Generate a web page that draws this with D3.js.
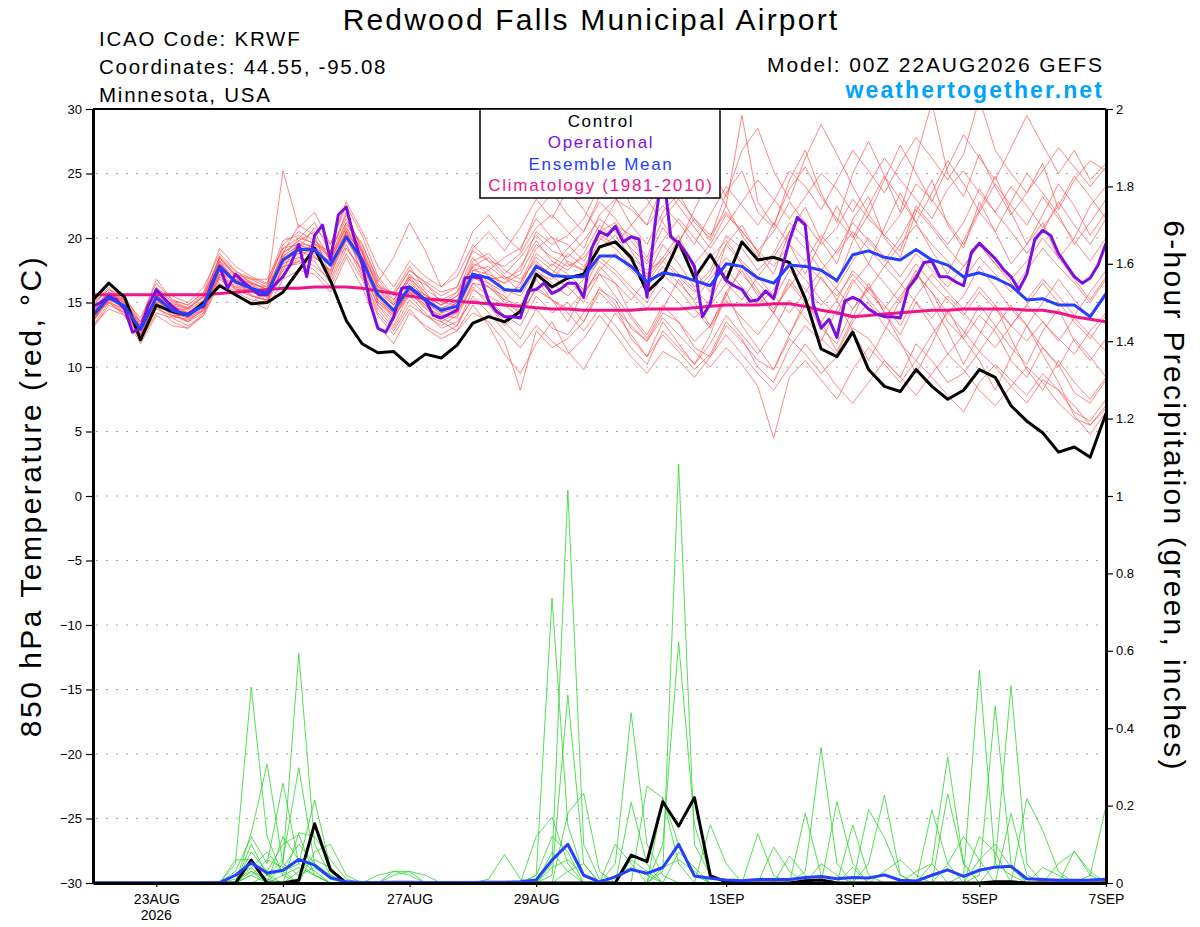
<!DOCTYPE html>
<html>
<head>
<meta charset="utf-8">
<script src="https://cdn.jsdelivr.net/npm/d3@7"></script>
<style>
  body { margin: 0; background: #ffffff; }
  text { font-family: "Liberation Sans", Arial, Helvetica, sans-serif; }
</style>
</head>
<body>
<div id="chart"></div>
<script>
// ---- data ----
const startTime = Date.UTC(2026, 7, 22, 0);
const endTime = Date.UTC(2026, 8, 7, 0);

const xTickDates = [Date.UTC(2026,7,23), Date.UTC(2026,7,25), Date.UTC(2026,7,27), Date.UTC(2026,7,29),
                    Date.UTC(2026,8,1), Date.UTC(2026,8,3), Date.UTC(2026,8,5), Date.UTC(2026,8,7)];
const xTickLabels = ["23AUG", "25AUG", "27AUG", "29AUG", "1SEP", "3SEP", "5SEP", "7SEP"];
const leftTicks = [-30, -25, -20, -15, -10, -5, 0, 5, 10, 15, 20, 25, 30];
const rightTicks = [0, 0.2, 0.4, 0.6, 0.8, 1, 1.2, 1.4, 1.6, 1.8, 2];
const rightTickLabels = ["0", "0.2", "0.4", "0.6", "0.8", "1", "1.2", "1.4", "1.6", "1.8", "2"];

// 6-hourly, 65 steps
const controlTemp = [15.2,16.5,15.4,12.1,14.8,14.3,14.0,15.0,16.3,15.6,
  14.9,15.0,15.8,17.5,19.2,16.7,13.6,11.8,11.1,11.2,
  10.1,11.0,10.7,11.7,13.4,13.9,13.5,14.3,17.2,16.2,
  16.9,17.2,19.3,19.7,18.5,15.8,17.0,19.7,16.9,18.7,
  16.7,19.7,18.3,18.5,18.1,15.3,11.4,10.8,12.7,9.8,
  8.5,8.1,9.8,8.5,7.5,8.2,9.8,9.2,7.0,5.8,
  4.9,3.4,3.8,3.0,6.4];

const meanTemp = [14.0,15.4,14.7,12.9,15.4,14.4,14.0,14.8,17.8,16.6,
  16.1,15.7,18.3,19.1,19.1,17.9,20.1,18.3,15.6,14.4,
  16.2,15.2,14.4,14.7,17.2,16.9,16.0,15.9,17.8,17.1,
  17.0,17.0,18.6,18.6,17.8,16.6,17.3,17.1,16.7,16.3,
  18.0,17.8,16.9,16.5,17.9,17.8,17.5,16.7,18.7,19.0,
  18.5,18.3,19.1,18.3,17.9,17.0,17.3,16.9,16.3,15.2,
  15.3,14.8,14.8,13.9,15.7];

const climoTemp = [15.6,15.6,15.6,15.6,15.6,15.6,15.6,15.6,15.7,15.8,
  15.9,16.0,16.1,16.1,16.2,16.2,16.2,16.1,15.9,15.7,
  15.5,15.3,15.2,15.1,15.0,14.9,14.8,14.7,14.6,14.5,
  14.5,14.4,14.4,14.4,14.4,14.5,14.5,14.5,14.6,14.7,
  14.8,14.8,14.8,14.9,14.9,14.7,14.4,14.2,13.9,14.0,
  14.1,14.2,14.3,14.4,14.4,14.5,14.5,14.5,14.5,14.4,
  14.4,14.2,13.9,13.7,13.5];

// operational run is 3-hourly, 129 steps
const operTemp = [14.7,15.0,15.5,15.2,14.5,12.7,13.0,14.8,16.0,15.3,
  14.7,14.2,14.1,14.5,14.7,16.5,17.8,16.1,17.2,16.6,
  16.1,15.6,15.6,16.4,17.0,18.0,19.5,17.0,20.2,21.0,
  18.3,21.8,22.4,20.0,18.0,15.0,13.0,12.7,13.9,16.1,
  16.2,15.7,15.2,14.0,13.8,14.1,14.4,16.9,17.0,16.9,
  15.1,14.3,13.9,13.9,13.8,15.9,16.0,16.5,15.7,16.0,
  16.5,16.5,15.4,19.2,20.5,20.2,20.9,19.7,20.1,19.9,
  15.4,21.0,25.5,20.1,19.6,18.8,17.8,13.9,14.9,17.8,
  16.7,16.3,16.0,15.1,15.2,15.9,15.3,17.5,19.8,21.6,
  21.0,14.9,13.0,13.7,12.3,15.1,15.4,15.1,14.5,14.1,
  13.9,13.9,13.8,16.1,16.9,18.1,18.2,17.0,17.0,16.6,
  16.3,18.9,19.6,19.0,18.4,17.6,17.0,16.0,17.2,19.9,
  20.6,20.2,18.8,17.9,17.0,16.5,16.9,17.9,19.6];

const tempMembers = [
  [13.2,15.0,14.2,12.4,15.0,14.0,13.5,14.2,17.0,16.0,15.5,15.2,17.5,19.8,20.5,18.2,21.0,19.5,16.8,15.2,17.0,16.4,15.5,16.2,19.0,18.2,17.0,16.5,19.2,20.1,18.0,17.5,20.5,21.2,19.0,17.2,18.5,20.2,17.5,15.8,19.5,21.0,18.8,17.2,20.5,22.4,19.8,18.0,21.5,23.2,20.0,18.5,22.0,24.5,21.0,19.2,22.8,20.5,18.0,19.5,21.2,18.4,20.0,22.5,24.0],
  [14.5,15.8,15.0,13.2,16.2,15.0,14.5,15.5,18.5,17.2,16.8,16.2,19.5,20.5,19.8,18.8,22.0,19.0,15.0,14.0,15.5,14.2,13.0,13.5,15.2,14.8,13.5,12.2,14.5,13.0,12.5,14.2,16.0,15.2,13.0,12.0,14.2,13.5,11.5,10.8,13.2,12.0,10.5,9.8,12.2,11.0,9.5,10.8,13.0,12.2,10.5,9.2,11.8,10.5,8.8,9.5,11.2,10.0,8.5,7.2,9.0,8.2,6.5,5.8,7.5],
  [13.8,15.5,14.5,12.0,14.2,13.8,13.2,14.0,16.5,15.5,15.0,15.8,18.8,21.0,20.2,17.0,20.5,17.2,14.2,12.8,14.8,14.0,13.2,14.0,17.5,17.8,16.8,17.5,20.5,19.5,20.2,21.5,24.0,23.2,21.0,19.5,22.0,23.5,21.2,20.0,23.5,25.2,22.0,20.8,24.5,26.8,23.5,21.2,25.0,27.5,24.8,22.0,26.2,30.5,25.0,23.2,26.5,24.0,21.8,23.5,25.8,22.2,24.5,26.0,25.2],
  [14.2,15.2,14.8,13.0,15.5,14.8,14.2,15.2,18.0,16.8,16.5,15.0,17.2,18.5,18.2,16.5,19.2,17.5,14.8,13.2,15.8,14.5,13.8,13.2,16.0,15.2,14.0,13.2,15.5,14.2,15.0,13.5,16.2,14.8,12.2,10.8,12.5,11.2,9.8,11.0,13.5,12.2,10.0,8.8,11.5,13.2,12.0,14.5,16.8,15.2,13.8,15.5,17.2,15.8,13.5,12.2,14.0,12.8,10.5,9.2,11.5,10.2,8.0,7.2,9.0],
  [13.5,15.6,15.2,13.5,16.8,15.2,14.8,15.8,19.2,17.8,17.0,16.5,19.8,20.2,19.5,19.0,21.5,18.8,16.2,15.8,17.8,16.0,15.2,15.8,18.5,17.0,16.5,17.8,19.8,18.2,17.5,18.8,21.0,19.8,18.2,17.0,19.5,18.0,16.2,17.5,20.2,19.2,17.5,18.8,21.2,20.0,18.2,16.5,19.8,21.8,20.2,19.0,22.5,21.0,19.5,21.2,23.8,22.0,20.5,18.8,20.5,22.8,21.0,19.5,21.5],
  [14.8,16.2,14.5,12.5,15.2,14.2,13.8,14.5,17.2,16.2,15.8,15.5,18.0,18.8,19.5,18.5,20.8,18.5,15.5,14.5,16.5,15.5,14.8,15.5,18.2,18.8,17.5,16.8,18.2,17.0,16.2,15.0,17.2,16.5,14.0,12.5,14.8,13.5,12.0,13.2,15.8,17.5,15.5,14.2,16.8,15.2,13.0,11.8,14.5,16.2,14.2,12.5,15.0,13.2,11.0,12.5,14.8,13.2,11.5,10.2,12.8,14.5,12.0,10.5,12.2],
  [14.0,15.0,14.0,12.2,15.8,14.5,14.2,15.0,18.2,16.5,16.0,16.0,18.5,19.2,20.8,19.5,22.5,20.2,17.0,15.5,17.5,16.5,15.0,14.8,17.8,16.5,15.8,16.2,18.8,17.8,19.2,20.5,22.8,21.5,19.8,18.2,20.8,19.2,18.0,19.5,21.8,20.5,19.0,20.5,22.8,21.2,19.5,20.8,23.0,21.5,20.2,21.8,24.2,23.0,21.2,19.5,22.0,24.2,22.5,21.0,23.2,21.5,19.8,18.2,20.0],
  [13.0,14.8,14.2,12.8,14.8,13.5,13.0,14.0,16.8,15.8,15.2,15.0,17.8,18.0,18.5,17.5,20.0,17.8,15.2,14.2,16.0,14.8,13.5,12.8,14.2,13.5,12.0,8.2,12.8,11.5,12.2,13.5,15.8,14.5,13.2,12.0,13.8,12.5,11.2,10.0,11.5,10.2,8.5,4.5,9.2,10.5,9.0,7.5,9.8,11.5,10.2,8.8,10.5,9.2,7.8,6.5,8.8,10.2,9.0,7.8,9.5,8.2,7.0,5.5,6.8],
  [15.0,16.0,15.5,13.5,16.0,15.5,15.0,16.2,18.8,17.5,16.5,16.0,18.2,19.5,19.0,17.2,19.8,18.0,16.0,14.8,16.8,15.8,14.2,15.0,17.0,16.2,15.2,14.8,17.2,16.8,18.2,17.5,19.8,21.0,20.2,18.5,21.5,23.0,21.5,19.8,22.5,29.5,22.8,21.0,23.8,25.5,23.2,21.5,20.0,22.5,24.8,23.0,21.2,23.5,26.0,24.2,22.0,20.5,22.8,25.0,23.5,21.8,19.5,21.2,23.0],
  [13.5,15.2,14.8,12.2,14.5,14.0,14.0,14.8,17.5,16.2,16.2,15.5,18.5,20.0,21.2,18.8,21.8,19.2,16.5,14.8,16.2,15.0,14.5,15.2,18.0,17.5,16.0,15.5,17.5,16.5,15.5,16.8,18.2,17.2,15.8,14.5,16.2,15.0,13.8,15.2,17.5,16.2,14.8,16.0,18.2,16.8,15.2,14.0,16.5,18.0,16.5,15.0,17.2,15.8,14.2,15.5,17.8,16.2,14.5,13.2,15.0,16.8,15.2,13.8,15.5],
  [14.5,15.5,15.0,13.0,16.0,14.8,14.0,15.0,18.5,17.0,15.5,15.2,18.8,19.8,19.2,18.0,20.5,18.2,15.8,14.8,17.2,15.8,14.2,14.5,16.8,17.5,18.5,19.2,21.5,20.0,19.5,18.2,20.2,19.5,21.0,22.5,24.2,22.5,20.8,19.2,21.0,22.8,24.5,23.0,21.5,23.2,25.0,23.8,22.0,24.2,26.2,24.5,23.0,21.5,23.8,25.2,23.5,22.0,24.0,22.5,20.8,22.5,24.8,23.2,21.5],
  [13.8,15.0,14.5,12.5,15.2,14.2,13.5,14.5,17.2,16.0,16.0,15.8,18.0,18.5,17.8,16.8,19.5,17.0,14.5,13.0,15.2,14.0,13.5,14.2,16.5,15.5,14.8,13.8,16.2,15.2,14.2,12.8,14.5,13.2,11.5,10.2,12.8,11.5,10.2,11.8,14.0,12.5,11.0,12.8,15.2,13.8,12.2,11.0,13.5,15.0,13.2,11.8,10.5,12.5,14.2,12.8,11.2,13.0,14.8,13.2,11.5,10.0,12.2,10.8,9.2],
  [14.2,15.8,15.2,13.8,16.5,15.2,14.8,15.8,18.2,17.2,16.8,16.8,19.2,19.5,18.8,18.2,20.8,19.0,16.2,15.2,17.0,15.5,14.8,15.8,17.8,18.5,17.2,18.5,20.2,19.0,18.5,19.8,21.5,20.5,19.2,18.0,19.8,21.5,20.0,18.5,19.8,18.2,17.0,18.5,20.5,19.2,17.5,19.0,21.2,19.8,18.2,20.0,22.2,20.8,19.2,17.8,19.5,18.0,16.8,18.2,20.0,18.5,16.8,15.2,17.0],
  [13.2,14.5,14.0,11.8,14.0,13.2,13.0,14.2,17.0,15.5,15.0,14.5,16.8,17.5,17.2,15.8,18.5,16.2,13.2,11.8,14.2,13.2,12.5,13.2,15.5,14.2,12.8,11.5,13.2,12.0,11.0,12.2,14.0,12.5,10.8,9.5,11.2,10.5,9.2,10.8,12.5,11.0,9.5,8.2,10.0,11.8,10.2,8.5,7.2,8.8,10.5,9.2,7.8,9.5,11.0,9.8,8.2,7.0,8.5,10.0,8.8,7.2,6.0,5.5,7.0],
  [14.8,16.0,15.2,13.2,15.5,14.8,14.5,15.5,18.0,17.0,16.5,16.0,25.2,20.8,22.0,19.5,22.8,20.5,17.8,16.2,18.2,17.0,16.2,17.0,19.5,18.2,17.8,18.8,20.8,21.8,20.5,19.2,21.8,23.0,22.2,21.0,22.5,21.2,19.5,21.8,24.0,22.5,21.0,22.8,25.2,24.0,22.2,24.5,26.8,25.2,23.5,25.8,27.8,26.2,24.5,26.5,30.8,26.8,25.0,23.5,25.2,27.0,25.5,24.0,25.5],
  [13.5,15.4,14.6,12.8,15.6,14.5,14.0,14.8,17.8,16.8,16.2,15.8,18.2,19.0,18.5,17.5,19.8,18.5,15.5,14.2,16.0,15.2,14.0,13.8,16.5,16.2,15.5,14.2,16.8,18.0,17.2,16.0,18.5,17.5,16.2,15.0,17.2,16.0,14.5,13.0,15.2,13.8,12.5,14.2,16.5,15.0,13.5,15.2,17.5,16.2,14.8,13.2,15.5,17.2,15.8,14.5,16.2,14.8,13.2,14.8,16.5,15.0,13.5,12.2,14.0],
  [14.0,15.2,14.8,13.5,15.8,14.6,14.2,15.0,17.5,16.8,16.0,15.5,17.5,18.2,19.8,18.5,21.2,19.0,15.0,13.8,15.8,14.8,13.8,14.5,17.2,16.8,17.0,15.8,18.0,17.2,18.8,17.8,19.2,20.2,18.5,17.5,18.2,19.8,21.5,20.2,22.0,20.5,19.0,17.8,19.5,18.2,20.2,18.8,20.5,19.2,17.8,19.5,21.0,19.5,18.2,16.8,18.5,17.2,15.8,17.5,19.2,17.8,16.5,15.0,16.8],
  [14.2,15.6,14.4,12.6,15.0,14.2,13.8,14.6,17.6,16.4,15.8,15.4,18.2,19.2,19.0,17.8,20.2,18.0,15.2,14.0,16.0,15.0,14.2,15.0,17.0,16.5,15.2,16.5,18.5,17.5,16.8,15.5,17.8,16.5,15.2,16.8,18.5,17.2,16.0,14.8,16.5,15.2,17.0,15.5,14.2,15.8,17.5,16.0,14.5,16.0,17.8,16.5,15.0,13.8,15.5,14.2,12.8,11.5,13.2,14.8,13.5,12.0,13.8,12.5,11.2],
  [14.6,15.8,14.9,13.0,15.2,14.0,13.6,14.4,17.4,16.6,16.4,16.2,18.6,19.4,18.6,17.4,20.6,18.6,16.0,15.0,16.8,15.2,14.6,14.8,17.5,17.2,16.5,17.2,19.5,18.5,17.8,18.5,20.0,19.2,17.8,16.5,18.2,17.0,15.8,17.2,19.5,18.0,16.5,15.2,17.5,16.0,14.8,16.2,18.2,20.0,18.5,17.0,18.8,17.5,16.2,17.8,19.5,18.0,16.5,15.2,16.8,15.5,14.0,15.8,17.5],
  [13.6,15.4,14.4,12.6,15.4,14.6,14.4,15.2,18.2,16.6,15.8,15.6,18.4,18.8,19.0,18.2,19.2,17.6,14.8,13.6,16.2,15.6,14.8,15.5,17.0,16.2,15.0,14.2,16.0,15.2,14.5,15.8,17.5,18.8,17.5,16.2,17.8,16.5,15.2,16.8,18.5,17.2,15.8,14.5,16.2,18.0,16.8,15.5,17.2,15.8,14.5,16.2,18.0,16.5,15.2,14.0,15.8,14.5,13.2,12.0,13.5,12.2,11.0,12.8,14.2],
  [14.4,15.2,14.6,13.1,15.6,14.9,14.6,15.4,18.6,17.4,16.9,16.4,19.2,20.0,19.6,18.6,21.2,19.6,16.6,18.5,21.2,19.0,16.2,17.5,20.5,21.8,20.2,19.0,22.0,23.5,21.8,20.5,23.2,24.8,22.5,21.0,24.2,26.5,28.8,25.5,23.2,26.8,28.5,25.2,23.0,26.2,28.8,26.5,24.0,21.8,24.5,27.2,25.0,22.8,25.5,28.0,26.2,24.5,27.0,29.5,27.2,25.0,26.8,24.5,25.8],
  [13.9,15.1,14.3,12.3,14.6,13.9,13.7,14.4,17.2,16.1,15.6,15.1,17.8,18.2,17.5,16.2,18.8,16.8,14.0,12.5,14.5,13.0,12.2,12.8,14.8,13.2,11.0,9.5,11.8,13.5,11.2,9.8,12.0,14.2,12.5,10.8,13.5,11.8,10.2,12.5,15.8,13.2,11.5,9.8,12.5,15.2,13.5,11.2,13.8,16.5,14.2,12.0,9.5,11.8,14.5,12.2,10.5,8.2,10.8,13.2,11.0,8.8,6.2,4.8,6.5],
  [14.3,15.7,15.1,13.3,16.0,15.1,14.6,15.6,18.4,17.1,16.6,16.0,18.9,19.6,19.3,18.4,20.4,18.9,16.4,15.6,17.5,16.6,15.8,16.2,19.2,20.5,19.0,20.8,23.0,21.5,23.8,22.2,20.5,22.8,25.2,23.0,21.2,19.5,22.2,24.8,22.5,20.2,18.5,21.2,19.5,17.2,19.8,22.5,20.2,18.0,20.8,23.5,21.2,19.0,17.2,19.8,22.2,24.8,22.0,19.5,21.8,24.2,22.5,20.2,22.0],
  [13.7,15.3,14.9,12.9,15.3,14.3,14.1,14.9,17.9,16.7,16.3,15.9,18.1,19.1,19.4,18.0,20.3,18.1,15.4,14.1,15.9,14.6,14.0,14.2,16.2,14.8,13.2,14.5,16.8,15.2,13.5,15.8,17.2,15.5,13.8,12.2,14.5,16.8,15.0,13.2,15.5,17.8,16.0,14.2,12.5,14.8,17.0,15.2,12.8,10.5,12.8,15.2,17.5,15.0,12.8,10.2,12.5,14.8,12.2,9.8,8.2,10.5,8.8,7.5,9.2]
];

const controlPrecip = [0,0,0,0,0,0,0,0,0,0,
  0.059,0,0,0.007,0.153,0.034,0,0,0,0,
  0,0,0,0,0,0,0,0,0,0,
  0,0,0,0,0.072,0.055,0.21,0.147,0.221,0.019,
  0.003,0,0,0,0,0.006,0.008,0,0,0,
  0,0,0,0,0,0,0,0.003,0.003,0,
  0,0,0,0,0];

const meanPrecip = [0,0,0,0,0,0,0,0,0.001,0.02,
  0.052,0.026,0.033,0.061,0.046,0.014,0.003,0.001,0.001,0.002,
  0.002,0.001,0.001,0.001,0.001,0.002,0.002,0.003,0.008,0.059,
  0.10,0.02,0.003,0.016,0.035,0.025,0.04,0.10,0.018,0.012,
  0.008,0.006,0.009,0.009,0.009,0.014,0.017,0.011,0.014,0.013,
  0.021,0.007,0.005,0.02,0.034,0.017,0.033,0.041,0.043,0.011,
  0.009,0.007,0.007,0.008,0.01];

const precipMembers = [
  [0,0,0,0,0,0,0,0,0,0.05, 0.506,0.12,0.02,0,0,0,0,0,0,0, 0,0,0,0,0,0,0,0,0.02,0.736, 0.15,0.02,0,0,0,0,0,0,0,0, 0,0,0,0,0,0.03,0.35,0.05,0,0, 0,0,0,0,0,0,0.02,0.457,0.05,0, 0,0,0,0,0],
  [0,0,0,0,0,0,0,0,0,0, 0.13,0.307,0.05,0.593,0.10,0.02,0,0,0,0, 0,0,0,0,0,0,0,0,0,0.05, 1.015,0.10,0.01,0,0,0,0,0,0,0, 0,0,0,0,0,0,0,0,0,0, 0,0,0,0.05,0.326,0.05,0,0,0,0, 0,0,0,0,0],
  [0,0,0,0,0,0,0,0,0,0.03, 0.12,0.05,0.258,0.05,0.215,0.04,0,0,0,0, 0,0,0,0,0,0,0,0,0,0, 0,0,0,0.05,0.44,0.10,0.02,0,0,0, 0,0,0,0,0,0,0,0,0,0.05, 0.227,0.02,0,0,0,0,0,0,0,0, 0,0,0,0.02,0.198],
  [0,0,0,0,0,0,0,0,0,0, 0.10,0.02,0.06,0.298,0.05,0.01,0,0,0,0, 0,0,0,0,0,0,0,0,0,0.02, 0.486,0.05,0,0,0,0,0.03,1.083,0.10,0.02, 0,0,0,0,0,0,0,0,0,0, 0,0,0,0,0,0.02,0.55,0.05,0.02,0, 0,0,0,0,0],
  [0,0,0,0,0,0,0,0,0,0, 0.08,0.03,0.10,0.125,0.02,0,0,0,0,0.02, 0.03,0.02,0,0,0,0,0,0,0,0, 0,0,0,0,0,0,0.10,0.622,0.15,0.02, 0,0,0,0,0,0,0,0,0,0, 0,0,0,0,0,0,0,0.05,0.51,0.05, 0,0,0,0,0],
  [0,0,0,0,0,0,0,0,0,0.06, 0.06,0.02,0,0.13,0.12,0.06,0.01,0,0,0, 0,0,0,0,0,0,0,0,0.12,0.17, 0.05,0,0,0,0.208,0.05,0,0,0,0, 0,0,0,0.093,0.03,0,0,0.21,0.05,0, 0,0,0,0,0,0,0,0,0,0.218, 0.136,0.03,0,0,0],
  [0,0,0,0,0,0,0,0,0,0, 0.04,0.08,0.03,0,0.08,0.10,0.02,0,0,0, 0,0,0,0,0,0.01,0.074,0.01,0,0, 0.18,0.232,0.03,0,0,0,0,0,0,0, 0,0,0.127,0.02,0,0,0,0,0.15,0.02, 0,0,0,0,0.23,0.05,0,0,0,0, 0,0,0.083,0.02,0],
  [0,0,0,0,0,0,0,0,0,0.02, 0.04,0,0.12,0.06,0.03,0,0,0,0,0, 0,0,0,0,0,0,0,0,0,0, 0,0,0,0,0,0.25,0.22,0.10,0.02,0, 0,0,0,0,0,0.18,0.02,0,0,0, 0,0,0,0.188,0.05,0,0,0,0.18,0.02, 0,0,0,0,0],
  [0,0,0,0,0,0,0,0,0,0, 0.02,0.06,0.04,0.10,0.05,0.02,0,0,0,0, 0,0,0,0,0,0,0,0,0.02,0.12, 0.08,0,0,0,0,0,0,0,0,0.15, 0.05,0,0,0,0.07,0.02,0,0,0,0.19, 0.117,0.02,0,0,0,0,0,0,0,0, 0,0,0,0,0],
  [0,0,0,0,0,0,0,0,0,0, 0.03,0,0.05,0.02,0.04,0.01,0,0,0.02,0.03, 0.02,0,0,0,0,0,0,0,0,0, 0,0,0,0.10,0.05,0,0.22,0.05,0,0, 0,0,0,0,0,0,0,0,0,0, 0,0,0.03,0.05,0,0,0.12,0.08,0,0, 0,0,0,0,0],
  [0,0,0,0,0,0,0,0,0,0, 0,0.02,0.03,0.05,0.02,0,0,0,0,0, 0,0,0,0,0,0,0,0,0,0.04, 0.06,0.02,0,0,0.06,0.03,0,0,0,0, 0,0,0,0,0,0,0.05,0.02,0,0, 0,0,0,0,0,0,0,0,0,0, 0,0.05,0.08,0.03,0],
  [0,0,0,0,0,0,0,0,0,0, 0.02,0,0,0.03,0.06,0.04,0,0,0,0, 0,0,0,0,0,0,0,0,0,0, 0.03,0.05,0,0,0,0,0,0.08,0.04,0, 0,0,0,0,0,0,0,0,0.04,0, 0,0,0,0,0,0,0.06,0.10,0.04,0, 0,0,0,0,0],
  [0,0,0,0,0,0,0,0,0,0.01, 0.03,0.01,0,0,0,0,0,0,0,0.03, 0.03,0,0,0,0,0,0,0,0,0, 0,0,0,0.02,0.04,0.02,0,0,0,0, 0,0,0,0,0,0,0,0,0,0, 0.03,0.06,0.02,0,0,0,0,0,0,0, 0.04,0.02,0,0,0],
  [0,0,0,0,0,0,0,0,0,0, 0,0,0.02,0.04,0.02,0,0,0,0,0, 0,0,0,0,0,0,0,0,0,0.08, 0.03,0,0,0,0,0,0.04,0.06,0.03,0, 0,0,0,0,0,0,0,0,0,0, 0,0,0,0,0.05,0.12,0.06,0,0,0, 0,0,0,0,0]
];

// ---- layout ----
const W = 1200, H = 927;
const plot = { left: 93, right: 1106, top: 109, bottom: 883 };
const HOUR = 3600 * 1000;

const svg = d3.select("#chart").append("svg")
  .attr("width", W)
  .attr("height", H)
  .attr("viewBox", `0 0 ${W} ${H}`);

svg.append("rect").attr("width", W).attr("height", H).attr("fill", "#ffffff");

const x = d3.scaleUtc().domain([startTime, endTime]).range([plot.left, plot.right]);
const yT = d3.scaleLinear().domain([-30, 30]).range([plot.bottom, plot.top]);
const yP = d3.scaleLinear().domain([0, 2]).range([plot.bottom, plot.top]);

const stepTimes = (n, hours) => d3.range(n).map(i => new Date(startTime + i * hours * HOUR));
const times6 = stepTimes(controlTemp.length, 6);
const times3 = stepTimes(operTemp.length, 3);

const lineOn = (times, y) => d3.line().x((d, i) => x(times[i])).y(d => y(d));

svg.append("defs").append("clipPath").attr("id", "plotClip")
  .append("rect")
  .attr("x", plot.left).attr("y", plot.top)
  .attr("width", plot.right - plot.left).attr("height", plot.bottom - plot.top);

// dotted grid on the temperature ticks
svg.append("g")
  .selectAll("line")
  .data(leftTicks.filter(v => v > -30 && v < 30))
  .enter()
  .append("line")
  .attr("x1", plot.left + 3)
  .attr("x2", plot.right)
  .attr("y1", d => yT(d))
  .attr("y2", d => yT(d))
  .attr("stroke", "#a8a8a8")
  .attr("stroke-width", 1.2)
  .attr("stroke-dasharray", "2,8");

const marks = svg.append("g").attr("clip-path", "url(#plotClip)");

// ensemble members
marks.append("g")
  .selectAll("path")
  .data(tempMembers)
  .enter()
  .append("path")
  .attr("d", lineOn(times6, yT))
  .attr("fill", "none")
  .attr("stroke", "#ff4d4d")
  .attr("stroke-opacity", 0.85)
  .attr("stroke-width", 0.8);

marks.append("g")
  .selectAll("path")
  .data(precipMembers)
  .enter()
  .append("path")
  .attr("d", lineOn(times6, yP))
  .attr("fill", "none")
  .attr("stroke", "#2ad62a")
  .attr("stroke-width", 0.8);

function bold(data, times, y, color) {
  marks.append("path")
    .datum(data)
    .attr("d", lineOn(times, y))
    .attr("fill", "none")
    .attr("stroke", color)
    .attr("stroke-width", 3)
    .attr("stroke-linejoin", "round");
}

bold(climoTemp, times6, yT, "#f0148c");
bold(controlTemp, times6, yT, "#000000");
bold(operTemp, times3, yT, "#7e0ee0");
bold(meanTemp, times6, yT, "#2440ff");
bold(controlPrecip, times6, yP, "#000000");
bold(meanPrecip, times6, yP, "#2440ff");

// ---- axes ----
const tickFont = "13px";

svg.append("g")
  .attr("transform", `translate(${plot.left},0)`)
  .call(d3.axisLeft(yT).tickValues(leftTicks).tickSize(7).tickSizeOuter(0).tickPadding(4))
  .call(g => g.selectAll("text").attr("fill", "#000").style("font-size", tickFont))
  .call(g => g.selectAll("line").attr("stroke", "#000").attr("stroke-width", 1.2))
  .call(g => g.select(".domain").attr("stroke", "#000").attr("stroke-width", 3));

svg.append("g")
  .attr("transform", `translate(${plot.right},0)`)
  .call(d3.axisRight(yP).tickValues(rightTicks).tickFormat((d, i) => rightTickLabels[i])
    .tickSize(7).tickSizeOuter(0).tickPadding(3))
  .call(g => g.selectAll("text").attr("fill", "#000").style("font-size", tickFont))
  .call(g => g.selectAll("line").attr("stroke", "#000").attr("stroke-width", 1.2))
  .call(g => g.select(".domain").attr("stroke", "#000").attr("stroke-width", 3));

svg.append("g")
  .attr("transform", `translate(0,${plot.bottom})`)
  .call(d3.axisBottom(x).tickValues(xTickDates.map(d => new Date(d)))
    .tickFormat((d, i) => xTickLabels[i]).tickSize(4).tickSizeOuter(0).tickPadding(7))
  .call(g => g.selectAll("text").attr("fill", "#000").style("font-size", "14px"))
  .call(g => g.selectAll("line").attr("stroke", "#000").attr("stroke-width", 1.2))
  .call(g => g.select(".domain").attr("stroke", "#000").attr("stroke-width", 3));

svg.append("text")
  .attr("x", x(new Date(xTickDates[0])))
  .attr("y", 920)
  .attr("text-anchor", "middle")
  .style("font-size", "14px")
  .text("2026");

svg.append("line")
  .attr("x1", plot.left).attr("x2", plot.right)
  .attr("y1", plot.top).attr("y2", plot.top)
  .attr("stroke", "#000").attr("stroke-width", 2);

// ---- legend ----
const legendItems = [
  { label: "Control", color: "#000000" },
  { label: "Operational", color: "#7e0ee0" },
  { label: "Ensemble Mean", color: "#2440ff" },
  { label: "Climatology (1981-2010)", color: "#f0148c" }
];

svg.append("rect")
  .attr("x", 480).attr("y", plot.top)
  .attr("width", 240).attr("height", 89)
  .attr("fill", "#ffffff")
  .attr("stroke", "#000").attr("stroke-width", 1.5);

svg.append("g")
  .selectAll("text")
  .data(legendItems)
  .enter()
  .append("text")
  .attr("x", 601)
  .attr("y", (d, i) => 127 + i * 21.3)
  .attr("text-anchor", "middle")
  .attr("fill", d => d.color)
  .style("font-size", "17px")
  .style("letter-spacing", "1.7px")
  .text(d => d.label);

// ---- titles ----
svg.append("text")
  .attr("x", 591).attr("y", 30)
  .attr("text-anchor", "middle")
  .style("font-size", "30px")
  .style("letter-spacing", "2.2px")
  .text("Redwood Falls Municipal Airport");

const infoLines = ["ICAO Code: KRWF", "Coordinates: 44.55, -95.08", "Minnesota, USA"];
svg.append("g")
  .selectAll("text")
  .data(infoLines)
  .enter()
  .append("text")
  .attr("x", 99)
  .attr("y", (d, i) => 46 + i * 28)
  .style("font-size", "20.5px")
  .style("letter-spacing", "1.75px")
  .text(d => d);

svg.append("text")
  .attr("x", 1104).attr("y", 72)
  .attr("text-anchor", "end")
  .style("font-size", "21px")
  .style("letter-spacing", "1.9px")
  .text("Model: 00Z 22AUG2026 GEFS");

svg.append("text")
  .attr("x", 1104).attr("y", 98)
  .attr("text-anchor", "end")
  .attr("fill", "#00a2ff")
  .style("font-size", "23px")
  .style("font-weight", "bold")
  .style("letter-spacing", "2.1px")
  .text("weathertogether.net");

svg.append("text")
  .attr("transform", `translate(41,${(plot.top + plot.bottom) / 2}) rotate(-90)`)
  .attr("text-anchor", "middle")
  .style("font-size", "30px")
  .style("letter-spacing", "2.5px")
  .text("850 hPa Temperature (red, °C)");

svg.append("text")
  .attr("transform", `translate(1164,${(plot.top + plot.bottom) / 2}) rotate(90)`)
  .attr("text-anchor", "middle")
  .style("font-size", "30px")
  .style("letter-spacing", "2.3px")
  .text("6-hour Precipitation (green, inches)");
</script>
</body>
</html>
